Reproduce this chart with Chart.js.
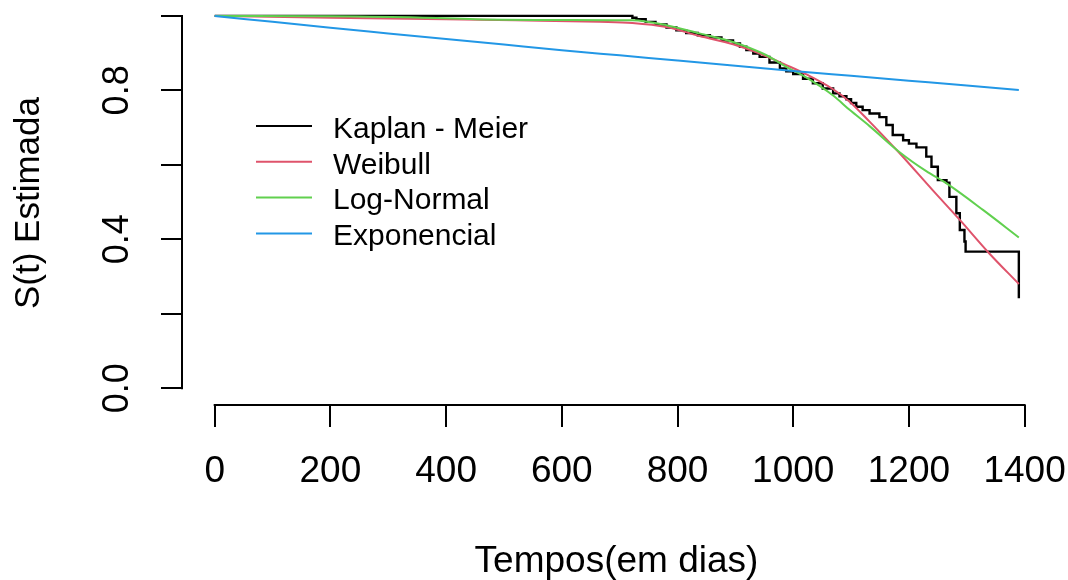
<!DOCTYPE html>
<html lang="pt">
<head>
<meta charset="UTF-8">
<title>S(t) Estimada</title>
<script src="https://cdn.jsdelivr.net/npm/chart.js@4"></script>
<style>
  html, body { margin: 0; padding: 0; background: #fff; }
  #wrap { width: 1068px; height: 580px; }
</style>
</head>
<body>
<div id="wrap"><canvas id="surv" width="1068" height="580"></canvas></div>
<script>
// valores (tempo em dias, S(t))
const kmTime = [0, 717, 722, 729, 745, 762, 781, 798, 815, 835, 856, 876, 896, 908, 919, 931, 942, 959, 977, 988, 1000, 1017, 1034, 1051, 1069, 1080, 1092, 1100, 1109, 1120, 1132, 1149, 1161, 1172, 1190, 1200, 1213, 1230, 1239, 1250, 1265, 1270, 1282, 1288, 1296, 1298, 1390];
const kmSurv = [1.0, 1.0, 0.995, 0.991, 0.984, 0.977, 0.969, 0.961, 0.954, 0.948, 0.942, 0.934, 0.926, 0.917, 0.908, 0.899, 0.890, 0.875, 0.859, 0.851, 0.844, 0.831, 0.819, 0.805, 0.792, 0.784, 0.776, 0.766, 0.756, 0.747, 0.738, 0.728, 0.707, 0.680, 0.666, 0.657, 0.647, 0.622, 0.595, 0.559, 0.552, 0.514, 0.470, 0.425, 0.394, 0.367, 0.242];

const weibTime = [0, 200, 400, 520, 665, 722, 781, 838, 896, 942, 988, 1023, 1069, 1098, 1132, 1184, 1241, 1288, 1339, 1390];
const weibSurv = [1.0, 0.995, 0.991, 0.988, 0.984, 0.981, 0.970, 0.946, 0.924, 0.899, 0.868, 0.843, 0.803, 0.769, 0.716, 0.631, 0.532, 0.452, 0.362, 0.280];

const lnormTime = [0, 200, 350, 450, 600, 722, 781, 838, 896, 953, 988, 1023, 1069, 1098, 1132, 1184, 1230, 1265, 1328, 1390];
const lnormSurv = [1.0, 0.999, 0.996, 0.991, 0.989, 0.988, 0.975, 0.953, 0.930, 0.895, 0.863, 0.834, 0.786, 0.747, 0.704, 0.634, 0.583, 0.550, 0.479, 0.405];

const expTime = [0, 100, 200, 300, 400, 500, 600, 700, 800, 900, 1000, 1100, 1200, 1300, 1390];
const expSurv = [1.0, 0.984, 0.968, 0.953, 0.938, 0.923, 0.908, 0.894, 0.880, 0.866, 0.852, 0.839, 0.826, 0.813, 0.801];

const xTicks = [0, 200, 400, 600, 800, 1000, 1200, 1400];
const yTicks = [0, 0.2, 0.4, 0.6, 0.8, 1.0];
const yLabeled = [0, 0.4, 0.8];

function pts(t, s) {
  return t.map((v, i) => ({ x: v, y: s[i] }));
}

const regular = "'Liberation Sans', Arial, sans-serif";

// eixos no estilo do R (linha so entre o primeiro e o ultimo tick) + legenda
const rStyle = {
  id: 'rStyle',
  afterDraw(chart) {
    const { ctx, chartArea } = chart;
    const x = chart.scales.x, y = chart.scales.y;
    ctx.save();
    ctx.strokeStyle = '#000';
    ctx.lineWidth = 2;
    ctx.beginPath();
    ctx.moveTo(x.getPixelForValue(xTicks[0]) - 1, chartArea.bottom);
    ctx.lineTo(x.getPixelForValue(xTicks[xTicks.length - 1]) + 1, chartArea.bottom);
    ctx.moveTo(chartArea.left, y.getPixelForValue(yTicks[0]) + 1);
    ctx.lineTo(chartArea.left, y.getPixelForValue(yTicks[yTicks.length - 1]) - 1);
    ctx.stroke();

    // legenda
    ctx.font = '30px ' + regular;
    ctx.textBaseline = 'middle';
    ctx.textAlign = 'left';
    chart.data.datasets.forEach((ds, i) => {
      const ly = 126 + i * 35.8;
      ctx.strokeStyle = ds.borderColor;
      ctx.lineWidth = 2;
      ctx.beginPath();
      ctx.moveTo(256, ly);
      ctx.lineTo(312, ly);
      ctx.stroke();
      ctx.fillStyle = '#000';
      ctx.fillText(ds.label, 333, ly + 3.5);
    });
    ctx.restore();
  }
};

new Chart(document.getElementById('surv'), {
  type: 'line',
  data: {
    datasets: [
      { label: 'Kaplan - Meier', data: pts(kmTime, kmSurv), borderColor: '#000000', borderWidth: 2.4, stepped: true, order: 4 },
      { label: 'Weibull', data: pts(weibTime, weibSurv), borderColor: '#DF536B', cubicInterpolationMode: 'monotone', order: 3 },
      { label: 'Log-Normal', data: pts(lnormTime, lnormSurv), borderColor: '#61D04F', cubicInterpolationMode: 'monotone', order: 2 },
      { label: 'Exponencial', data: pts(expTime, expSurv), borderColor: '#2297E6', cubicInterpolationMode: 'monotone', order: 1 }
    ]
  },
  options: {
    responsive: false,
    animation: false,
    devicePixelRatio: 1,
    layout: { padding: { top: 1, right: 17, left: 0, bottom: 0 } },
    elements: {
      point: { radius: 0 },
      line: { borderWidth: 2, fill: false }
    },
    plugins: {
      legend: { display: false },
      tooltip: { enabled: false }
    },
    scales: {
      x: {
        type: 'linear',
        position: 'bottom',
        min: -56.5,
        max: 1445.6,
        afterBuildTicks: s => { s.ticks = xTicks.map(v => ({ value: v })); },
        afterFit: s => { s.height = 175; s.paddingLeft = 0; s.paddingRight = 0; },
        border: { display: false },
        grid: { drawOnChartArea: false, drawTicks: true, tickLength: 22, color: '#000', lineWidth: 2 },
        ticks: {
          autoSkip: false,
          maxRotation: 0,
          padding: 26,
          color: '#000',
          font: { family: regular, size: 37, lineHeight: 1 },
          callback: v => String(v)
        },
        title: {
          display: true,
          text: 'Tempos(em dias)',
          color: '#000',
          font: { family: regular, size: 37, lineHeight: 1 },
          padding: { top: 0, bottom: 0 }
        }
      },
      y: {
        type: 'linear',
        position: 'left',
        min: -0.045,
        max: 1.04,
        afterBuildTicks: s => { s.ticks = yTicks.map(v => ({ value: v })); },
        afterFit: s => { s.width = 182; s.paddingTop = 0; s.paddingBottom = 0; },
        border: { display: false },
        grid: { drawOnChartArea: false, drawTicks: true, tickLength: 21, color: '#000', lineWidth: 2 },
        ticks: {
          autoSkip: false,
          minRotation: 90,
          maxRotation: 90,
          crossAlign: 'center',
          padding: 18,
          color: '#000',
          font: { family: regular, size: 36, lineHeight: 1 },
          callback: v => yLabeled.includes(v) ? v.toFixed(1) : ''
        },
        title: {
          display: true,
          text: 'S(t) Estimada',
          color: '#000',
          font: { family: regular, size: 35, lineHeight: 1 },
          padding: { top: 12, bottom: 0 }
        }
      }
    }
  },
  plugins: [rStyle]
});
</script>
</body>
</html>
